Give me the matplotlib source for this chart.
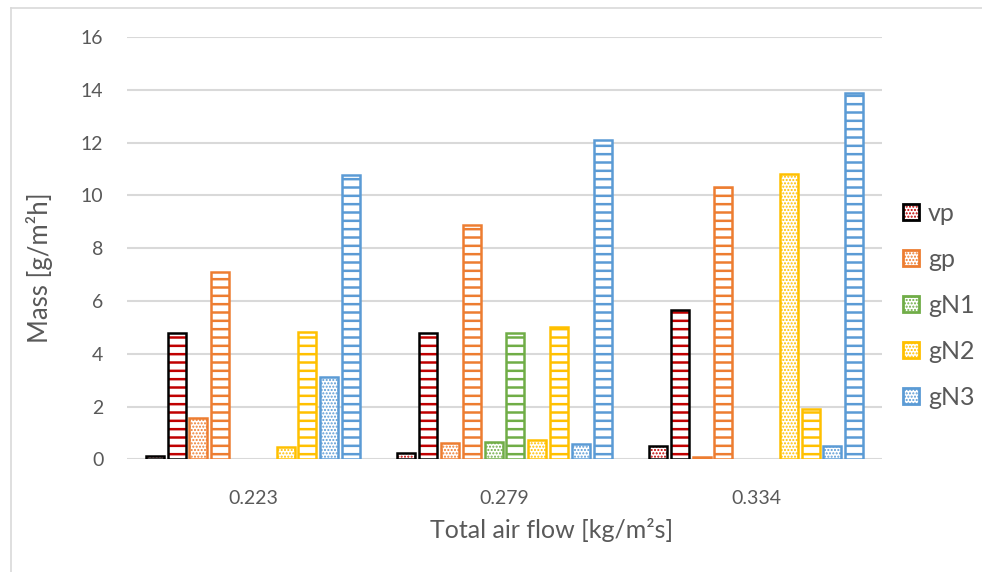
import matplotlib
matplotlib.use("Agg")
import matplotlib.pyplot as plt
import numpy as np
from matplotlib.patches import Patch
from matplotlib.lines import Line2D
from matplotlib.legend_handler import HandlerTuple

plt.rcParams['font.family'] = ['Lato', 'DejaVu Sans']

categories = ['0.223', '0.279', '0.334']
series = ['vp', 'gp', 'gN1', 'gN2', 'gN3']
dotted_values = {
    'vp':  [0.12, 0.25, 0.52],
    'gp':  [1.55, 0.61, 0.10],
    'gN1': [0.0, 0.64, 0.0],
    'gN2': [0.48, 0.72, 10.80],
    'gN3': [3.13, 0.57, 0.50],
}
lined_values = {
    'vp':  [4.77, 4.80, 5.66],
    'gp':  [7.08, 8.88, 10.31],
    'gN1': [0.0, 4.77, 0.0],
    'gN2': [4.81, 5.00, 1.89],
    'gN3': [10.77, 12.08, 13.89],
}
hatch_colors = {'vp': '#C00000', 'gp': '#ED7D31', 'gN1': '#70AD47',
                'gN2': '#FFC000', 'gN3': '#5B9BD5'}
edge_colors = {'vp': '#000000', 'gp': '#ED7D31', 'gN1': '#70AD47',
               'gN2': '#FFC000', 'gN3': '#5B9BD5'}

fig = plt.figure(figsize=(9.82, 5.72), dpi=100)
ax = fig.add_axes([127/982, 1-459.3/572, (882-127)/982, (459.3-37)/572])

x = np.arange(len(categories))
slot = 0.0866
width = 0.0715
grid_c = '#D9D9D9'
text_c = '#595959'

ax.set_axisbelow(True)
ax.yaxis.grid(True, color=grid_c, linewidth=1.5)
for s in ax.spines.values():
    s.set_visible(False)

idx = 0
for name in series:
    for kind, vals in (('dot', dotted_values[name]), ('line', lined_values[name])):
        pos = x + (idx - 4.5) * slot
        hatch = '.....' if kind == 'dot' else '--'
        hlw = 1.0 if kind == 'dot' else 1.8
        lws = [1.8 if v > 0 else 0 for v in vals]
        with plt.rc_context({'hatch.linewidth': hlw}):
            ax.bar(pos, vals, width, facecolor='white', edgecolor=hatch_colors[name],
                   hatch=hatch, linewidth=0, zorder=2)
        ax.bar(pos, vals, width, fill=False, edgecolor=edge_colors[name],
               linewidth=lws, zorder=3)
        idx += 1

ax.set_xlim(-0.5, 2.5)
ax.set_ylim(0, 16)
ax.set_yticks(np.arange(0, 17, 2))
ax.set_xticks(x)
ax.set_xticklabels(categories)
ax.tick_params(axis='both', length=0, colors=text_c, labelsize=14)
ax.tick_params(axis='y', pad=17)
ax.tick_params(axis='x', pad=22)

ax.set_ylabel('Mass [g/m²h]', fontsize=18.5, color=text_c)
ax.yaxis.set_label_coords((53 - 127) / 755, (459.3 - 268) / 422.3)
ax.set_xlabel('Total air flow [kg/m²s]', fontsize=18, color=text_c)
ax.xaxis.set_label_coords((552 - 127) / 755, (459.3 - 518) / 422.3)

handles = []
for name in series:
    with plt.rc_context({'hatch.linewidth': 1.0}):
        p1 = Patch(facecolor='white', edgecolor=hatch_colors[name], hatch='.....', linewidth=0)
    p2 = Patch(fill=False, edgecolor=edge_colors[name], linewidth=2)
    handles.append((p1, p2))
leg = ax.legend(handles, series, handler_map={tuple: HandlerTuple(ndivide=1)},
                loc='center left', bbox_to_anchor=(0.998, 0.365), frameon=False,
                fontsize=18, labelspacing=0.92, handlelength=0.65, handleheight=0.65,
                handletextpad=0.35, labelcolor=text_c)

fig.add_artist(Line2D([10.5/982, 10.5/982], [0, 1-8/572], color=grid_c, linewidth=1.2))
fig.add_artist(Line2D([10.5/982, 1], [1-8/572, 1-8/572], color=grid_c, linewidth=1.2))

fig.savefig('out.png', dpi=100)
